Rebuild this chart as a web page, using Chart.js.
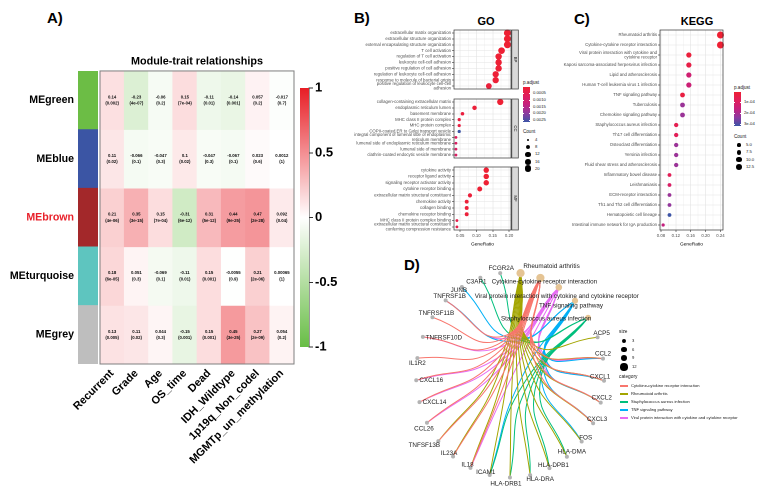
<!DOCTYPE html>
<html>
<head>
<meta charset="utf-8">
<title>Module-trait relationships, GO / KEGG enrichment and gene-concept network</title>
<script src="https://cdn.jsdelivr.net/npm/chart.js@4.4.1/dist/chart.umd.min.js"></script>
<style>
  body { margin: 0; background: #fff; font-family: "Liberation Sans", Arial, Helvetica, sans-serif; }
  #page { position: relative; width: 771px; height: 500px; overflow: hidden; background: #fff; }
  canvas, .txt, .box { position: absolute; }
  .txt { white-space: nowrap; line-height: 1; color: #1a1a1a; transform: translateY(-50%); }
  .tag { font-weight: bold; font-size: 15px; color: #000; }
  .head { font-weight: bold; font-size: 11px; color: #000; transform: translate(-50%, -50%); }
</style>
</head>
<body>
<div id="page">
  <div class="txt tag" style="left:47px;top:17px">A)</div>
  <div class="txt tag" style="left:354px;top:17px">B)</div>
  <div class="txt tag" style="left:574px;top:18px">C)</div>
  <div class="txt tag" style="left:404px;top:264px">D)</div>
  <div class="txt head" style="left:486px;top:21px">GO</div>
  <div class="txt head" style="left:697px;top:21px">KEGG</div>

  <canvas id="moduleStrip" width="98" height="293" style="left:0;top:71px"></canvas>
  <canvas id="heatmap" width="240" height="460" style="left:60px;top:40px"></canvas>
  <canvas id="corBar" width="42" height="279" style="left:298px;top:78px"></canvas>

  <canvas id="goBP" width="180" height="67" style="left:340px;top:26px"></canvas>
  <canvas id="goCC" width="180" height="67" style="left:340px;top:95px"></canvas>
  <canvas id="goMF" width="180" height="84" style="left:340px;top:163px"></canvas>

  <canvas id="kegg" width="167" height="221" style="left:560px;top:26px"></canvas>

  <canvas id="cnet" width="270" height="250" style="left:380px;top:250px"></canvas>
</div>

<script>
// ---------- A) module-trait relationships ----------
const traits = ["Recurrent", "Grade", "Age", "OS_time", "Dead", "IDH_Wildtype", "1p19q_Non_codel", "MGMTp_un_methylation"];
const modules = ["MEgreen", "MEblue", "MEbrown", "MEturquoise", "MEgrey"];

const corGreen = [0.14, -0.23, -0.06, 0.15, -0.11, -0.14, 0.057, -0.017];
const corBlue = [0.11, -0.066, -0.047, 0.1, -0.047, -0.067, 0.023, 0.0012];
const corBrown = [0.21, 0.35, 0.15, -0.31, 0.31, 0.44, 0.47, 0.092];
const corTurquoise = [0.18, 0.051, -0.069, -0.11, 0.15, -0.0055, 0.21, 0.00065];
const corGrey = [0.13, 0.11, 0.044, -0.15, 0.15, 0.45, 0.27, 0.054];

const pGreen = ["0.002", "4e-07", "0.2", "7e-04", "0.01", "0.001", "0.2", "0.7"];
const pBlue = ["0.02", "0.1", "0.3", "0.02", "0.3", "0.1", "0.6", "1"];
const pBrown = ["4e-06", "3e-15", "7e-04", "6e-12", "5e-12", "9e-25", "2e-28", "0.04"];
const pTurquoise = ["6e-05", "0.3", "0.1", "0.01", "0.001", "0.9", "2e-06", "1"];
const pGrey = ["0.005", "0.02", "0.3", "0.001", "0.001", "3e-25", "2e-09", "0.2"];

const corTicks = [-1, -0.5, 0, 0.5, 1];

// ---------- B) GO dot plot ----------
const goBPTerms = ["extracellular matrix organization", "extracellular structure organization",
  "external encapsulating structure organization", "T cell activation", "regulation of T cell activation",
  "leukocyte cell-cell adhesion", "positive regulation of cell adhesion",
  "regulation of leukocyte cell-cell adhesion", "response to molecule of bacterial origin",
  ["positive regulation of leukocyte cell-cell", "adhesion"]];
const goBPRatio = [0.195, 0.195, 0.195, 0.177, 0.168, 0.168, 0.168, 0.159, 0.159, 0.138];
const goBPCount = [21, 21, 21, 19, 18, 18, 18, 17, 17, 15];
const goBPPadj = [0.00001, 0.00001, 0.00001, 0.00003, 0.00005, 0.00005, 0.00006, 0.00008, 0.00008, 0.00015];

const goCCTerms = ["collagen-containing extracellular matrix", "endoplasmic reticulum lumen", "basement membrane",
  "MHC class II protein complex", "MHC protein complex", "COPII-coated ER to Golgi transport vesicle",
  ["integral component of lumenal side of endoplasmic", "reticulum membrane"],
  "lumenal side of endoplasmic reticulum membrane", "lumenal side of membrane",
  "clathrin-coated endocytic vesicle membrane"];
const goCCRatio = [0.173, 0.094, 0.057, 0.047, 0.047, 0.047, 0.037, 0.037, 0.037, 0.037];
const goCCCount = [17, 9, 6, 5, 5, 5, 4, 4, 4, 4];
const goCCPadj = [0.00002, 0.0001, 0.0002, 0.00025, 0.00025, 0.00265, 0.0007, 0.0008, 0.0008, 0.0008];

const goMFTerms = ["cytokine activity", "receptor ligand activity", "signaling receptor activator activity",
  "cytokine receptor binding", "extracellular matrix structural constituent", "chemokine activity",
  "collagen binding", "chemokine receptor binding", "MHC class II protein complex binding",
  ["extracellular matrix structural constituent", "conferring compression resistance"]];
const goMFRatio = [0.13, 0.13, 0.13, 0.11, 0.08, 0.07, 0.07, 0.07, 0.04, 0.04];
const goMFCount = [13, 13, 13, 11, 8, 7, 7, 7, 4, 4];
const goMFPadj = [0.00002, 0.00003, 0.00003, 0.00004, 0.00015, 0.0001, 0.00012, 0.00012, 0.0004, 0.0004];

const goXTicks = [0.05, 0.10, 0.15, 0.20];
const goPadjTicks = [0.0005, 0.0010, 0.0015, 0.0020, 0.0025];
const goCountTicks = [4, 8, 12, 16, 20];

// ---------- C) KEGG dot plot ----------
const keggTerms = ["Rheumatoid arthritis", "Cytokine-cytokine receptor interaction",
  ["Viral protein interaction with cytokine and", "cytokine receptor"],
  "Kaposi sarcoma-associated herpesvirus infection", "Lipid and atherosclerosis",
  "Human T-cell leukemia virus 1 infection", "TNF signaling pathway", "Tuberculosis",
  "Chemokine signaling pathway", "Staphylococcus aureus infection", "Th17 cell differentiation",
  "Osteoclast differentiation", "Yersinia infection", "Fluid shear stress and atherosclerosis",
  "Inflammatory bowel disease", "Leishmaniasis", "ECM-receptor interaction",
  "Th1 and Th2 cell differentiation", "Hematopoietic cell lineage",
  "Intestinal immune network for IgA production"];
const keggRatio = [0.24, 0.24, 0.155, 0.155, 0.155, 0.155, 0.138, 0.138, 0.138, 0.121,
  0.121, 0.121, 0.121, 0.121, 0.103, 0.103, 0.103, 0.103, 0.103, 0.086];
const keggCount = [14, 14, 9, 9, 9, 9, 8, 8, 8, 7, 7, 7, 7, 7, 6, 6, 6, 6, 6, 5];
const keggPadj = [0.000002, 0.000003, 0.00002, 0.00004, 0.00013, 0.00014, 0.00003, 0.00022, 0.00022, 0.00006,
  0.00007, 0.00022, 0.00022, 0.00022, 0.00007, 0.0001, 0.00022, 0.00023, 0.00032, 0.00016];

const keggXTicks = [0.08, 0.12, 0.16, 0.20, 0.24];
const keggPadjTicks = [0.0001, 0.0002, 0.0003];
const keggCountTicks = [5, 7.5, 10, 12.5];

// ---------- D) gene-concept network ----------
const cnetCategories = ["Cytokine-cytokine receptor interaction", "Rheumatoid arthritis",
  "Staphylococcus aureus infection", "TNF signaling pathway",
  "Viral protein interaction with cytokine and cytokine receptor"];
const cytokineGenes = ["TNFRSF1B", "TNFRSF11B", "TNFRSF10D", "IL1R2", "CXCL16", "CXCL14", "CCL26",
  "TNFSF13B", "IL23A", "IL18", "CCL2", "CXCL1", "CXCL2", "CXCL3"];
const rheumatoidGenes = ["TNFSF13B", "IL23A", "IL18", "ICAM1", "HLA-DRB1", "HLA-DRA", "HLA-DPB1",
  "HLA-DMA", "FOS", "CXCL3", "CXCL2", "CXCL1", "CCL2", "ACP5"];
const staphGenes = ["FCGR2A", "C3AR1", "ICAM1", "HLA-DRB1", "HLA-DRA", "HLA-DPB1", "HLA-DMA"];
const tnfGenes = ["JUNB", "TNFRSF1B", "ICAM1", "FOS", "CXCL3", "CXCL2", "CXCL1", "CCL2"];
const viralGenes = ["TNFRSF1B", "TNFRSF10D", "CXCL16", "CXCL14", "CCL26", "IL18", "CCL2", "CXCL1", "CXCL2"];
// order of the nodes round the circular layout
const ringOrder = ["Staphylococcus aureus infection", "TNF signaling pathway",
  "Viral protein interaction with cytokine and cytokine receptor",
  "Cytokine-cytokine receptor interaction", "Rheumatoid arthritis",
  "FCGR2A", "C3AR1", "JUNB", "TNFRSF1B", "TNFRSF11B", "TNFRSF10D", "IL1R2", "CXCL16", "CXCL14",
  "CCL26", "TNFSF13B", "IL23A", "IL18", "ICAM1", "HLA-DRB1", "HLA-DRA", "HLA-DPB1", "HLA-DMA",
  "FOS", "CXCL3", "CXCL2", "CXCL1", "CCL2", "ACP5"];
const sizeTicks = [3, 6, 9, 12];

// ---------- styles ----------
const FONT = '"Liberation Sans", Arial, Helvetica, sans-serif';
const moduleColors = ["#6cbd45", "#3b55a4", "#a3282a", "#5ec5bf", "#bebebe"];
const catColors = ["#f8766d", "#a3a500", "#00bf7d", "#00b0f6", "#e76bf3"];
const pStops = [[0, [238, 32, 51]], [0.25, [224, 30, 92]], [0.5, [196, 32, 126]], [0.75, [140, 58, 160]], [1, [60, 84, 166]]];

Chart.defaults.font.family = FONT;
Chart.defaults.color = '#1a1a1a';
Chart.defaults.animation = false;
Chart.defaults.responsive = false;
Chart.defaults.maintainAspectRatio = false;
Chart.defaults.devicePixelRatio = 2;
Chart.defaults.events = [];
Chart.defaults.plugins.legend.display = false;
Chart.defaults.plugins.tooltip.enabled = false;

const page = document.getElementById('page');

const mix = (a, b, t) => Math.round(a + (b - a) * t);

const corColor = (v) => {
  const end = v >= 0 ? [232, 30, 38] : [104, 189, 69];
  const t = Math.min(Math.abs(v), 1);
  return `rgb(${mix(255, end[0], t)},${mix(255, end[1], t)},${mix(255, end[2], t)})`;
};

const rampColor = (t) => {
  t = Math.max(0, Math.min(1, t));
  for (let i = 1; i < pStops.length; i++) {
    if (t <= pStops[i][0]) {
      const [t0, c0] = pStops[i - 1];
      const [t1, c1] = pStops[i];
      const u = (t - t0) / (t1 - t0);
      return `rgb(${mix(c0[0], c1[0], u)},${mix(c0[1], c1[1], u)},${mix(c0[2], c1[2], u)})`;
    }
  }
  return 'rgb(60,84,166)';
};

// ggplot-like size scale: area linear in the value
const sizeScale = (vMin, vMax, rMin, rMax) => (v) =>
  Math.sqrt(rMin * rMin + (v - vMin) / (vMax - vMin) * (rMax * rMax - rMin * rMin));

const addText = (text, x, y, size, extra) => {
  const d = document.createElement('div');
  d.className = 'txt';
  d.textContent = text;
  d.style.left = x + 'px';
  d.style.top = y + 'px';
  d.style.fontSize = size + 'px';
  if (extra) Object.assign(d.style, extra);
  page.appendChild(d);
  return d;
};

const addBox = (x, y, w, h, bg, extra) => {
  const d = document.createElement('div');
  d.className = 'box';
  Object.assign(d.style, { left: x + 'px', top: y + 'px', width: w + 'px', height: h + 'px', background: bg }, extra || {});
  page.appendChild(d);
  return d;
};

// ================= A) heatmap =================
const corRows = [corGreen, corBlue, corBrown, corTurquoise, corGrey];
const pRows = [pGreen, pBlue, pBrown, pTurquoise, pGrey];

new Chart(document.getElementById('moduleStrip'), {
  type: 'bar',
  data: {
    labels: modules,
    datasets: [{
      data: modules.map(() => [0, 1]),
      backgroundColor: moduleColors,
      borderWidth: 0,
      barPercentage: 1,
      categoryPercentage: 1
    }]
  },
  options: {
    indexAxis: 'y',
    layout: { padding: 0 },
    scales: {
      x: { display: false, min: 0, max: 1 },
      y: {
        afterFit: (s) => { s.width = 78; s.paddingTop = 0; s.paddingBottom = 0; },
        ticks: {
          font: { size: 10.6, weight: 'bold' },
          color: (c) => modules[c.index] === 'MEbrown' ? '#e8202a' : '#000',
          padding: 4
        },
        grid: { display: false, drawTicks: false },
        border: { display: false }
      }
    }
  }
});

const cellText = {
  id: 'cellText',
  afterDatasetsDraw(chart) {
    const { ctx, chartArea } = chart;
    ctx.save();
    ctx.font = `bold 4.3px ${FONT}`;
    ctx.fillStyle = '#111';
    ctx.textAlign = 'center';
    ctx.textBaseline = 'middle';
    chart.data.datasets.forEach((ds, i) => {
      chart.getDatasetMeta(i).data.forEach((bar, j) => {
        const cy = (bar.y + bar.base) / 2;
        ctx.fillText(String(corRows[i][j]), bar.x, cy - 3.1);
        ctx.fillText('(' + pRows[i][j] + ')', bar.x, cy + 3.1);
      });
    });
    ctx.strokeStyle = '#7f7f7f';
    ctx.lineWidth = 1;
    ctx.strokeRect(chartArea.left, chartArea.top, chartArea.width, chartArea.height);
    ctx.restore();
  }
};

new Chart(document.getElementById('heatmap'), {
  type: 'bar',
  data: {
    labels: traits,
    datasets: modules.map((m, i) => ({
      label: m,
      data: corRows[i].map(() => [i, i + 1]),
      backgroundColor: corRows[i].map(corColor),
      borderWidth: 0,
      grouped: false,
      barPercentage: 1,
      categoryPercentage: 1
    }))
  },
  options: {
    layout: { padding: { left: 40, right: 6, top: 0, bottom: 0 } },
    plugins: {
      title: {
        display: true,
        text: 'Module-trait relationships',
        color: '#000',
        font: { size: 10.8, weight: 'bold' },
        padding: { top: 15, bottom: 3 }
      }
    },
    scales: {
      x: {
        afterFit: (s) => { s.height = 136; s.paddingLeft = 0; s.paddingRight = 0; },
        ticks: { font: { size: 11, weight: 'bold' }, color: '#000', minRotation: 45, maxRotation: 45, padding: 3, autoSkip: false },
        grid: { display: false, drawTicks: false },
        border: { display: false }
      },
      y: { display: false, min: 0, max: modules.length, reverse: true }
    }
  },
  plugins: [cellText]
});

new Chart(document.getElementById('corBar'), {
  type: 'bar',
  data: {
    labels: [''],
    datasets: [{
      data: [[corTicks[0], corTicks[corTicks.length - 1]]],
      backgroundColor: (c) => {
        const area = c.chart.chartArea;
        if (!area) return '#fff';
        const g = c.chart.ctx.createLinearGradient(0, area.bottom, 0, area.top);
        for (let k = 0; k <= 20; k++) g.addColorStop(k / 20, corColor(-1 + k / 10));
        return g;
      },
      borderWidth: 0,
      barPercentage: 1,
      categoryPercentage: 1
    }]
  },
  options: {
    layout: { padding: { left: 2, top: 10, bottom: 10, right: 0 } },
    scales: {
      x: { display: false },
      y: {
        position: 'right',
        min: -1, max: 1,
        afterBuildTicks: (s) => { s.ticks = corTicks.map(v => ({ value: v })); },
        afterFit: (s) => { s.width = 31; s.paddingTop = 0; s.paddingBottom = 0; },
        ticks: { font: { size: 13, weight: 'bold' }, color: '#000', padding: 2, callback: (v) => String(v) },
        grid: { drawOnChartArea: false, tickLength: 4, color: '#333' },
        border: { display: true, color: '#333' }
      }
    }
  }
});

// ================= B) / C) dot plots =================
const panelFrame = (stripLabel) => ({
  id: 'panelFrame',
  afterDraw(chart) {
    const { ctx, chartArea: a } = chart;
    ctx.save();
    ctx.strokeStyle = '#333';
    ctx.lineWidth = 0.7;
    ctx.strokeRect(a.left, a.top, a.width, a.height);
    if (stripLabel) {
      ctx.fillStyle = '#d9d9d9';
      ctx.fillRect(a.right + 0.8, a.top, 6.5, a.height);
      ctx.strokeRect(a.right + 0.8, a.top, 6.5, a.height);
      ctx.translate(a.right + 4.05, (a.top + a.bottom) / 2);
      ctx.rotate(Math.PI / 2);
      ctx.fillStyle = '#1a1a1a';
      ctx.font = `4.3px ${FONT}`;
      ctx.textAlign = 'center';
      ctx.textBaseline = 'middle';
      ctx.fillText(stripLabel, 0, 0);
    }
    ctx.restore();
  }
});

const withMinor = (majors) => {
  const step = majors[1] - majors[0];
  const out = [{ value: majors[0] - step / 2, major: false }];
  majors.forEach((v) => {
    out.push({ value: v, major: true });
    out.push({ value: v + step / 2, major: false });
  });
  return out;
};

const makeDotPlot = (id, terms, ratios, counts, padj, cfg) => {
  const tickList = withMinor(cfg.majors);
  return new Chart(document.getElementById(id), {
    type: 'bubble',
    data: {
      datasets: [{
        data: terms.map((t, i) => ({ x: ratios[i], y: i, r: cfg.radius(counts[i]) })),
        backgroundColor: padj.map(p => rampColor((p - cfg.pMin) / (cfg.pMax - cfg.pMin))),
        borderWidth: 0,
        clip: false
      }]
    },
    options: {
      layout: { padding: { left: 0, right: cfg.padRight, top: 0, bottom: 0 } },
      scales: {
        x: {
          type: 'linear', min: cfg.xMin, max: cfg.xMax,
          afterBuildTicks: (s) => { s.ticks = tickList.filter(t => t.value >= cfg.xMin && t.value <= cfg.xMax).map(t => ({ ...t })); },
          afterFit: (s) => { s.height = cfg.showX ? 17 : 0; s.paddingLeft = 0; s.paddingRight = 0; },
          ticks: {
            display: cfg.showX, autoSkip: false, maxRotation: 0,
            font: { size: 4.3 }, color: '#4d4d4d', padding: 1,
            callback: (v) => cfg.majors.includes(v) ? v.toFixed(2) : ''
          },
          grid: {
            color: (c) => c.tick && c.tick.major ? '#e3e3e3' : '#f2f2f2',
            tickColor: (c) => c.tick && c.tick.major ? '#333' : 'rgba(0,0,0,0)',
            tickLength: 2, drawTicks: cfg.showX, lineWidth: 0.6
          },
          border: { display: false },
          title: { display: cfg.showX, text: 'GeneRatio', color: '#000', font: { size: 4.8 }, padding: 0 }
        },
        y: {
          type: 'category', labels: terms, offset: true,
          afterFit: (s) => { s.width = cfg.yWidth; s.paddingTop = 0; s.paddingBottom = 0; },
          ticks: { autoSkip: false, font: { size: 4.3, lineHeight: 1.1 }, color: '#4d4d4d', padding: 1 },
          grid: { color: '#e3e3e3', tickColor: '#333', tickLength: 2, lineWidth: 0.6 },
          border: { display: false }
        }
      }
    },
    plugins: [panelFrame(cfg.strip)]
  });
};

const goAllCounts = [...goBPCount, ...goCCCount, ...goMFCount];
const goAllPadj = [...goBPPadj, ...goCCPadj, ...goMFPadj];
const goRadius = sizeScale(Math.min(...goAllCounts), Math.max(...goAllCounts), 1.4, 3.5);
const goBase = {
  majors: goXTicks, xMin: 0.031, xMax: 0.206, yWidth: 114, padRight: 9,
  radius: goRadius, pMin: Math.min(...goAllPadj), pMax: Math.max(...goAllPadj)
};
makeDotPlot('goBP', goBPTerms, goBPRatio, goBPCount, goBPPadj, { ...goBase, strip: 'BP', showX: false });
makeDotPlot('goCC', goCCTerms, goCCRatio, goCCCount, goCCPadj, { ...goBase, strip: 'CC', showX: false });
makeDotPlot('goMF', goMFTerms, goMFRatio, goMFCount, goMFPadj, { ...goBase, strip: 'MF', showX: true });

const keggRadius = sizeScale(Math.min(...keggCount), Math.max(...keggCount), 1.6, 3.5);
const keggBase = {
  majors: keggXTicks, xMin: 0.0775, xMax: 0.2468, yWidth: 100, padRight: 0,
  radius: keggRadius, pMin: Math.min(...keggPadj), pMax: Math.max(...keggPadj)
};
makeDotPlot('kegg', keggTerms, keggRatio, keggCount, keggPadj, { ...keggBase, strip: null, showX: true });

// legends for the dot plots
const rampCss = 'linear-gradient(to bottom,' + pStops.map(([t, c]) => `rgb(${c.join(',')}) ${t * 100}%`).join(',') + ')';

const padjLegend = (x, y, h, base, ticks, fmt) => {
  addText('p.adjust', x, y - 4, 4.6);
  addBox(x, y, 7, h, rampCss);
  ticks.forEach(v => {
    const ty = y + (v - base.pMin) / (base.pMax - base.pMin) * h;
    addBox(x, ty - 0.25, 1.4, 0.5, '#fff');
    addBox(x + 5.6, ty - 0.25, 1.4, 0.5, '#fff');
    addText(fmt(v), x + 10, ty, 4.2);
  });
};
const countLegend = (x, y, step, ticks, radius, fmt) => {
  addText('Count', x, y, 4.6);
  ticks.forEach((v, k) => {
    const r = radius(v);
    const cy = y + 8 + k * step;
    addBox(x + 5 - r, cy - r, 2 * r, 2 * r, '#000', { borderRadius: '50%' });
    addText(fmt(v), x + 12, cy, 4.2);
  });
};

padjLegend(523, 87, 35, goBase, goPadjTicks, v => v.toFixed(4));
countLegend(523, 132, 7.2, goCountTicks, goRadius, v => String(v));
padjLegend(734, 92, 34, keggBase, keggPadjTicks, v => v.toExponential(0).replace('e-', 'e-0'));
countLegend(734, 137, 7.3, keggCountTicks, keggRadius, v => v.toFixed(1));

// ================= D) gene-concept network =================
const cnetMembers = [cytokineGenes, rheumatoidGenes, staphGenes, tnfGenes, viralGenes];
const RX = 97, RY = 106, START = 34;   // circular layout
const ringPos = ringOrder.map((n, i) => {
  const a = (START + i * 360 / ringOrder.length) * Math.PI / 180;
  return { x: RX * Math.cos(a), y: RY * Math.sin(a) };
});
const posOf = (name) => ringPos[ringOrder.indexOf(name)];
const catRadius = (n) => 1.1 * Math.sqrt(n);

const labelNudge = {
  "FCGR2A": [1, -5], "C3AR1": [-4, 4], "JUNB": [-3, 3], "TNFRSF1B": [4, -4], "TNFRSF11B": [4, -4],
  "TNFRSF10D": [21, 1], "IL1R2": [0, 5], "CXCL16": [15, 0], "CXCL14": [15, 0], "CCL26": [-3, 6],
  "TNFSF13B": [-14, 4], "IL23A": [-4, -3], "IL18": [-3, -3], "ICAM1": [-4, -3], "HLA-DRB1": [-4, 6],
  "HLA-DRA": [10, 4], "HLA-DPB1": [4, -3], "HLA-DMA": [5, -5], "FOS": [4, -4], "CXCL3": [4, -4],
  "CXCL2": [1, -5], "CXCL1": [-4, -4], "CCL2": [0, -5], "ACP5": [4, -4],
  "Staphylococcus aureus infection": [-42, 1], "TNF signaling pathway": [-4, 5],
  "Viral protein interaction with cytokine and cytokine receptor": [-2, 9],
  "Cytokine-cytokine receptor interaction": [4, 4], "Rheumatoid arthritis": [31, -7]
};

const edgeSets = [];
cnetCategories.forEach((cat, c) => {
  const to = posOf(cat);
  cnetMembers[c].forEach(g => {
    const from = posOf(g);
    const bend = 0.45; // pull the mid point toward the ring centre
    const mid = { x: (from.x + to.x) / 2 * bend, y: (from.y + to.y) / 2 * bend };
    edgeSets.push({
      data: [from, mid, to],
      showLine: true,
      tension: 0.5,
      borderColor: catColors[c],
      borderWidth: 1,
      pointRadius: 0,
      order: 2
    });
  });
});

const geneNames = ringOrder.filter(n => !cnetCategories.includes(n));
const ringCats = ringOrder.filter(n => cnetCategories.includes(n));

const nodeLabels = {
  id: 'nodeLabels',
  afterDatasetsDraw(chart) {
    const { ctx, scales: { x, y } } = chart;
    ctx.save();
    ctx.font = `6.3px ${FONT}`;
    ctx.fillStyle = '#1a1a1a';
    ctx.textAlign = 'center';
    ctx.textBaseline = 'middle';
    ringOrder.forEach((name, i) => {
      const n = labelNudge[name] || [0, -5];
      ctx.fillText(name, x.getPixelForValue(ringPos[i].x) + n[0], y.getPixelForValue(ringPos[i].y) + n[1]);
    });
    ctx.restore();
  }
};

new Chart(document.getElementById('cnet'), {
  type: 'scatter',
  data: {
    datasets: [
      {
        data: ringCats.map(posOf),
        pointRadius: ringCats.map(n => catRadius(cnetMembers[cnetCategories.indexOf(n)].length)),
        backgroundColor: '#e5c494',
        borderWidth: 0,
        clip: false,
        order: 0
      },
      {
        data: geneNames.map(posOf),
        pointRadius: 2,
        backgroundColor: '#b3b3b3',
        borderWidth: 0,
        clip: false,
        order: 1
      },
      ...edgeSets
    ]
  },
  options: {
    layout: { padding: 0 },
    scales: {
      x: { display: false, min: -130, max: 140 },
      y: { display: false, min: -125, max: 125 }
    }
  },
  plugins: [nodeLabels]
});

// network legend
addText('size', 619, 332, 4.8);
sizeTicks.forEach((v, k) => {
  const r = catRadius(v);
  const cy = 341 + k * 8.6;
  addBox(624 - r, cy - r, 2 * r, 2 * r, '#000', { borderRadius: '50%' });
  addText(String(v), 632, cy, 4.2);
});
addText('category', 619, 377, 4.8);
cnetCategories.forEach((cat, k) => {
  const cy = 386 + k * 8;
  addBox(620, cy - 0.6, 8, 1.2, catColors[k]);
  addText(cat, 631, cy, 4.1);
});
</script>
</body>
</html>
